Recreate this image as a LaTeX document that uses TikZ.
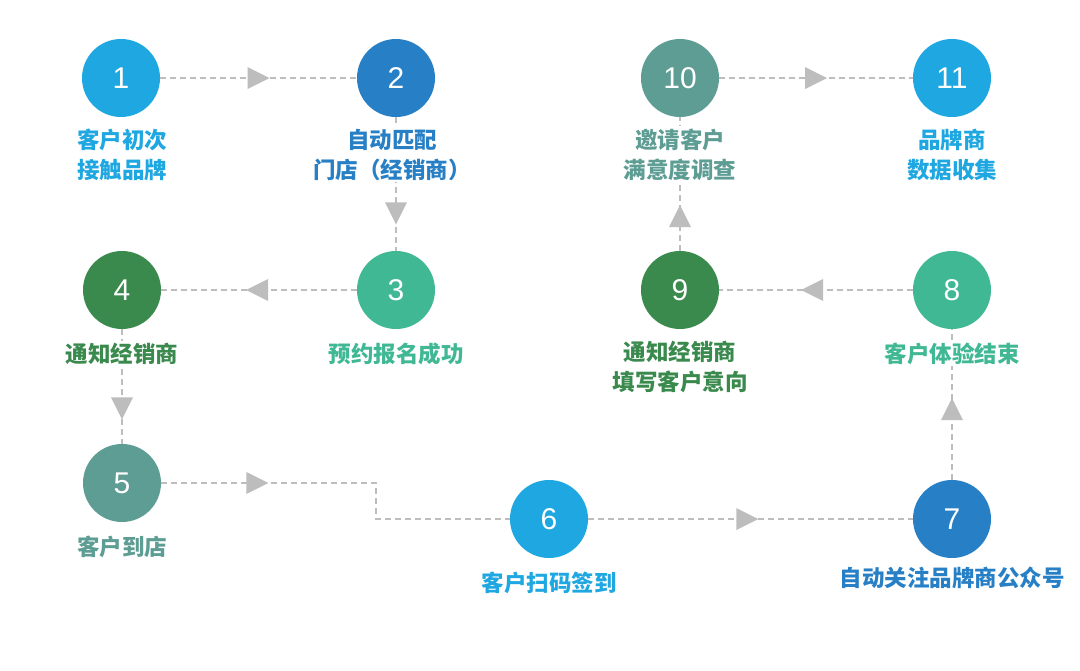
\documentclass[tikz,border=0pt]{standalone}
\usepackage{fontspec}
\setmainfont{Liberation Sans}
\newfontfamily\cjk{Noto Sans CJK SC}
\usetikzlibrary{decorations.markings}
\definecolor{skyblue}{HTML}{1EA7E0}
\definecolor{deepblue}{HTML}{2780C5}
\definecolor{mint}{HTML}{40B893}
\definecolor{forest}{HTML}{3A8A4E}
\definecolor{sage}{HTML}{5E9D94}
\definecolor{flowgray}{HTML}{BDBDBD}

\begin{document}
\begin{tikzpicture}[x=1pt,y=-1pt]
\tikzstyle{every node}+=[inner sep=0pt]
\tikzstyle{stage}=[circle,minimum size=78pt,text=white,font=\fontsize{30}{30}\selectfont]
\tikzstyle{stagetext}=[fill=white,inner sep=2pt,align=center,anchor=base,font=\cjk\bfseries\fontsize{22.5}{30}\selectfont]
\tikzstyle{flow}=[draw=flowgray,line width=1.8pt,dash pattern=on 6pt off 4pt]
\tikzset{flowmark/.style={postaction={decorate,decoration={markings,
  mark=at position #1 with {\fill[flowgray] (-11pt,-11pt) -- (11pt,0pt) -- (-11pt,11pt) -- cycle;}}}}}
\fill [white] (0,0) rectangle (1080,670);
\useasboundingbox (0,0) rectangle (1080,670);
% stages
\node [stage,fill=skyblue] (n1) at (121,78) {1};
\node [stage,fill=deepblue] (n2) at (396,78) {2};
\node [stage,fill=mint] (n3) at (396,290) {3};
\node [stage,fill=forest] (n4) at (122,290) {4};
\node [stage,fill=sage] (n5) at (122,483) {5};
\node [stage,fill=skyblue] (n6) at (549,519) {6};
\node [stage,fill=deepblue] (n7) at (952,519) {7};
\node [stage,fill=mint] (n8) at (952,290) {8};
\node [stage,fill=forest] (n9) at (680,290) {9};
\node [stage,fill=sage] (n10) at (680,78) {10};
\node [stage,fill=skyblue] (n11) at (952,78) {11};
% flow
\coordinate (k5) at (376,483);
\draw [flow,flowmark=0.5] (n1) -- (n2);
\draw [flow,flowmark=0.72] (n2) -- (n3);
\draw [flow,flowmark=0.51] (n3) -- (n4);
\draw [flow,flowmark=0.69] (n4) -- (n5);
\draw [flow,flowmark=0.25] (n5) -- (k5) |- (n6);
\draw [flow,flowmark=0.49] (n6) -- (n7);
\draw [flow,flowmark=0.47] (n7) -- (n8);
\draw [flow,flowmark=0.52] (n8) -- (n9);
\draw [flow,flowmark=0.26] (n9) -- (n10);
\draw [flow,flowmark=0.5] (n10) -- (n11);
% labels (base = last line)
\node [stagetext,text=skyblue] (t1) at (122,178) {客户初次\\接触品牌};
\node [stagetext,text=deepblue] (t2) at (392,178) {自动匹配\\门店（经销商）};
\node [stagetext,text=mint] (t3) at (396,362) {预约报名成功};
\node [stagetext,text=forest] (t4) at (122,362) {通知经销商};
\node [stagetext,text=sage] (t5) at (122,555) {客户到店};
\node [stagetext,text=skyblue] (t6) at (549,591) {客户扫码签到};
\node [stagetext,text=deepblue] (t7) at (952,586) {自动关注品牌商公众号};
\node [stagetext,text=mint] (t8) at (952,362) {客户体验结束};
\node [stagetext,text=forest] (t9) at (680,390) {通知经销商\\填写客户意向};
\node [stagetext,text=sage] (t10) at (680,178) {邀请客户\\满意度调查};
\node [stagetext,text=skyblue] (t11) at (952,178) {品牌商\\数据收集};
\end{tikzpicture}
\end{document}
